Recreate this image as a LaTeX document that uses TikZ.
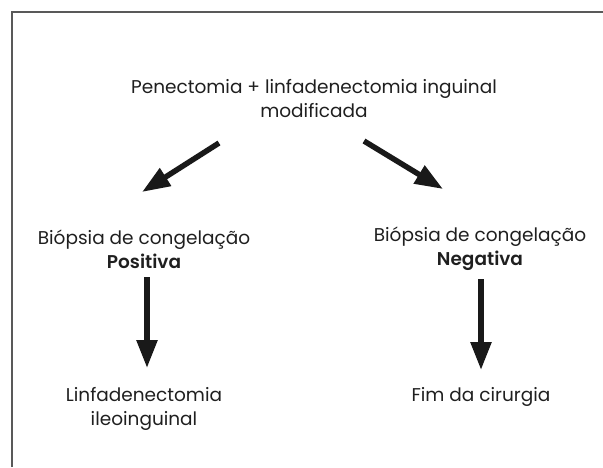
\documentclass[tikz,border=0pt]{standalone}
\usepackage{fontspec}
\setmainfont{Poppins}[BoldFont={Poppins SemiBold}]
\usetikzlibrary{arrows.meta}
\tikzset{
  lbl/.style={align=center, inner sep=0pt, font=\fontsize{18.5}{24}\selectfont, text=black!88},
  bigarrow/.style={line width=5.5pt, -{Triangle[length=28pt,width=20pt]}, black!90},
  frameline/.style={line width=1.5pt, black!65}
}
\begin{document}
\begin{tikzpicture}[x=1pt,y=-1pt]
\useasboundingbox (0,0) rectangle (603,467);
\draw[frameline] (12,467) -- (12,12) -- (603,12);
\node[lbl] (top) at (314,99) {Penectomia + linfadenectomia inguinal\\modificada};
\node[lbl] (pos) at (144,249) {Biópsia de congelação\\\textbf{Positiva}};
\node[lbl] (neg) at (480,249) {Biópsia de congelação\\\textbf{Negativa}};
\node[lbl] (lin) at (144,409) {Linfadenectomia\\ileoinguinal};
\node[lbl] (fim) at (481,397) {Fim da cirurgia};
\coordinate (a1s) at (219,143);
\coordinate (a1e) at (142,192);
\coordinate (a2s) at (364,141);
\coordinate (a2e) at (443,189);
\coordinate (a3s) at (147,277);
\coordinate (a3e) at (147,368);
\coordinate (a4s) at (481,279);
\coordinate (a4e) at (481,370);
\draw[bigarrow] (a1s) -- (a1e);
\draw[bigarrow] (a2s) -- (a2e);
\draw[bigarrow] (a3s) -- (a3e);
\draw[bigarrow] (a4s) -- (a4e);
\end{tikzpicture}
\end{document}
